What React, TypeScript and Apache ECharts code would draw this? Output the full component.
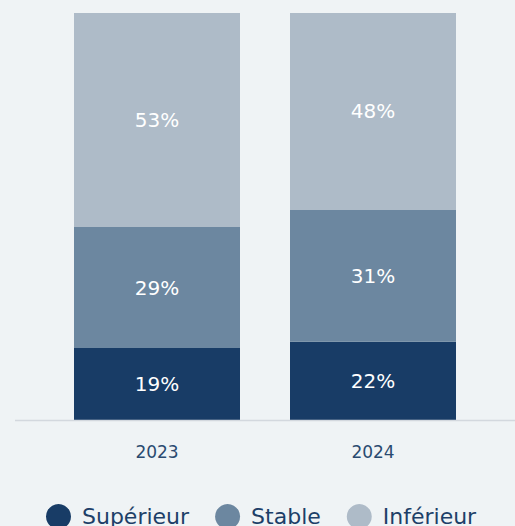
import React, { useEffect, useRef } from "react";
import * as echarts from "echarts";

const categories = ["2023", "2024"];
const seriesNames = ["Supérieur", "Stable", "Inférieur"];
// segment heights (share of the full bar)
const superieur = [17.7, 19.2];
const stable = [29.7, 32.4];
const inferieur = [52.6, 48.4];
// printed labels
const superieurLabels = ["19%", "22%"];
const stableLabels = ["29%", "31%"];
const inferieurLabels = ["53%", "48%"];
const colors = ["#183c66", "#6c87a0", "#aebbc8"];

const FONT = "'DejaVu Sans', 'Noto Sans', sans-serif";

export default function App() {
  const ref = useRef<HTMLDivElement>(null);
  useEffect(() => {
    if (!ref.current) return;
    const chart = echarts.init(ref.current, null, { renderer: "svg" });
    const values = [superieur, stable, inferieur];
    const labels = [superieurLabels, stableLabels, inferieurLabels];
    chart.setOption({
      animation: false,
      backgroundColor: "#eff3f5",
      color: colors,
      grid: { left: 49, right: 34, top: 13, bottom: 106 },
      legend: {
        left: 41,
        top: 499,
        padding: 5,
        icon: "circle",
        itemWidth: 25,
        itemHeight: 25,
        itemGap: 26,
        textStyle: { color: "#1d3f68", fontSize: 22, fontFamily: FONT, padding: [0, 0, 0, 6] },
        data: seriesNames,
      },
      xAxis: {
        type: "category",
        data: categories,
        axisLine: { show: false },
        axisTick: { show: false },
        axisLabel: { color: "#2a4a70", fontSize: 17, margin: 23, fontFamily: FONT },
      },
      yAxis: {
        type: "value",
        min: 0,
        max: 100,
        show: false,
        splitLine: { show: false },
      },
      graphic: [
        {
          type: "line",
          shape: { x1: 15, y1: 420.5, x2: 515, y2: 420.5 },
          style: { stroke: "#d3d8de", lineWidth: 1.5 },
          z: 10,
        },
      ],
      series: seriesNames.map((name, i) => ({
        name,
        type: "bar",
        stack: "total",
        barWidth: 166,
        data: values[i],
        itemStyle: { color: colors[i] },
        label: {
          show: true,
          position: "inside",
          color: "#ffffff",
          fontSize: 20,
          fontFamily: FONT,
          formatter: (p: any) => labels[i][p.dataIndex],
        },
      })),
    });
    return () => chart.dispose();
  }, []);
  return (
    <div
      ref={ref}
      style={{ position: "fixed", left: 0, top: 0, width: 515, height: 526 }}
    />
  );
}
